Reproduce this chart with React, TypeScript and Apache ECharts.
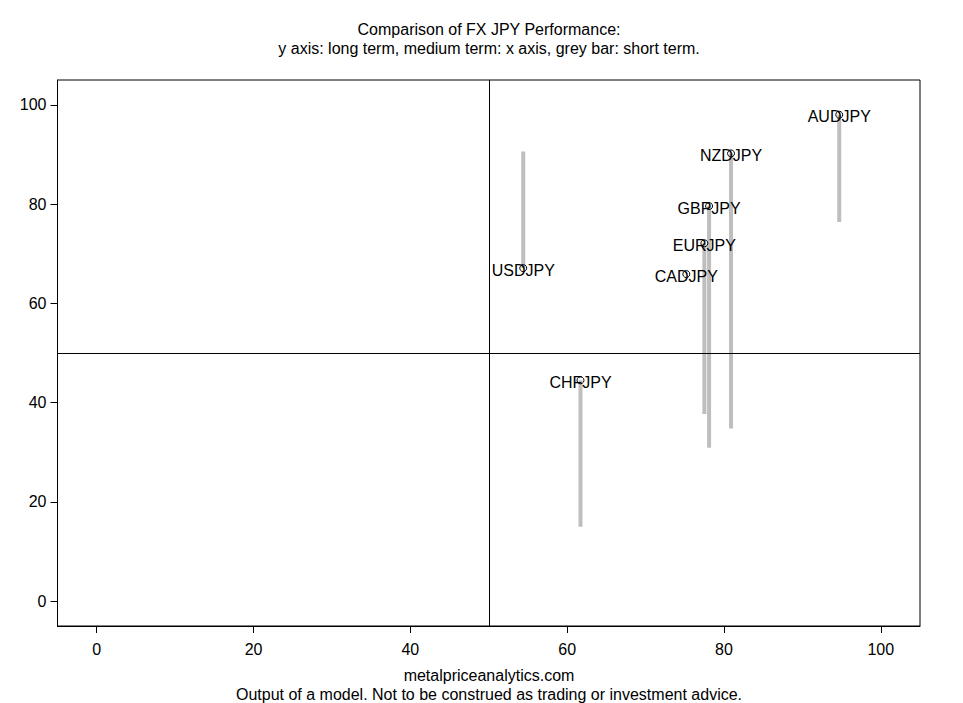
import React, { useEffect, useRef } from "react";
import * as echarts from "echarts";

const pairs = ["AUDJPY", "NZDJPY", "GBPJPY", "EURJPY", "CADJPY", "USDJPY", "CHFJPY"];
const mediumTerm = [94.7, 80.9, 78.1, 77.5, 75.2, 54.4, 61.7];
const longTerm = [98.0, 90.2, 79.6, 72.1, 65.9, 67.1, 44.5];
const shortTerm = [76.4, 34.8, 30.9, 37.7, 65.9, 90.6, 15.0];
const tickValues = [0, 20, 40, 60, 80, 100];

const titleLine1 = "Comparison of FX JPY Performance:";
const titleLine2 = "y axis: long term, medium term: x axis, grey bar: short term.";
const footer1 = "metalpriceanalytics.com";
const footer2 = "Output of a model. Not to be construed as trading or investment advice.";

const FONT = '"Liberation Sans", Arial, sans-serif';

export default function App() {
  const ref = useRef<HTMLDivElement>(null);
  useEffect(() => {
    if (!ref.current) return;
    const chart = echarts.init(ref.current, undefined, { renderer: "svg" });
    const axisCommon = {
      type: "value",
      min: -5,
      max: 105,
      splitLine: { show: false },
      axisLine: { show: true, onZero: false, lineStyle: { color: "#000", width: 1 } },
      axisTick: { show: true, length: 7, customValues: tickValues, lineStyle: { color: "#000", width: 1 } },
    };
    chart.setOption({
      animation: false,
      backgroundColor: "#fff",
      grid: {
        left: 57.5,
        right: 43,
        top: 80,
        bottom: 77,
        show: true,
        borderColor: "#000",
        borderWidth: 1,
        backgroundColor: "transparent",
      },
      xAxis: {
        ...axisCommon,
        axisLabel: { customValues: tickValues, color: "#000", fontSize: 16, fontFamily: FONT, margin: 15 },
      },
      yAxis: {
        ...axisCommon,
        axisLabel: { customValues: tickValues, color: "#000", fontSize: 16, fontFamily: FONT, margin: 11 },
      },
      graphic: [
        { type: "text", x: 489, y: 29, style: { text: titleLine1, textAlign: "center", textVerticalAlign: "middle", fontSize: 16, fontFamily: FONT, fill: "#000" } },
        { type: "text", x: 489, y: 48, style: { text: titleLine2, textAlign: "center", textVerticalAlign: "middle", fontSize: 16, fontFamily: FONT, fill: "#000" } },
        { type: "text", x: 489, y: 675, style: { text: footer1, textAlign: "center", textVerticalAlign: "middle", fontSize: 16, fontFamily: FONT, fill: "#000" } },
        { type: "text", x: 489, y: 694, style: { text: footer2, textAlign: "center", textVerticalAlign: "middle", fontSize: 16, fontFamily: FONT, fill: "#000" } },
      ],
      series: [
        {
          type: "custom",
          data: pairs.map((p, i) => [mediumTerm[i], longTerm[i], shortTerm[i]]),
          encode: { x: 0, y: [1, 2] },
          renderItem: (params: any, api: any) => {
            const p1 = api.coord([api.value(0), api.value(1)]);
            const p2 = api.coord([api.value(0), api.value(2)]);
            return {
              type: "line",
              shape: { x1: p1[0], y1: p1[1], x2: p2[0], y2: p2[1] },
              style: { stroke: "#bebebe", lineWidth: 4, lineCap: "butt" },
            };
          },
          silent: true,
          z: 1,
        },
        {
          type: "scatter",
          z: 3,
          symbol: "circle",
          symbolSize: 7,
          data: pairs.map((p, i) => ({ name: p, value: [mediumTerm[i], longTerm[i]] })),
          itemStyle: { color: "rgba(0,0,0,0)", borderColor: "#000", borderWidth: 1, opacity: 1 },
          label: {
            show: true,
            position: "inside",
            offset: [0, 2],
            formatter: "{b}",
            color: "#000",
            fontSize: 16,
            fontFamily: FONT,
          },
          markLine: {
            silent: true,
            symbol: "none",
            label: { show: false },
            lineStyle: { color: "#000", width: 1, type: "solid" },
            data: [{ xAxis: 50 }, { yAxis: 50 }],
          },
        },
      ],
    });
    return () => chart.dispose();
  }, []);
  return <div ref={ref} style={{ position: "fixed", left: 0, top: 0, width: 963, height: 703 }} />;
}
